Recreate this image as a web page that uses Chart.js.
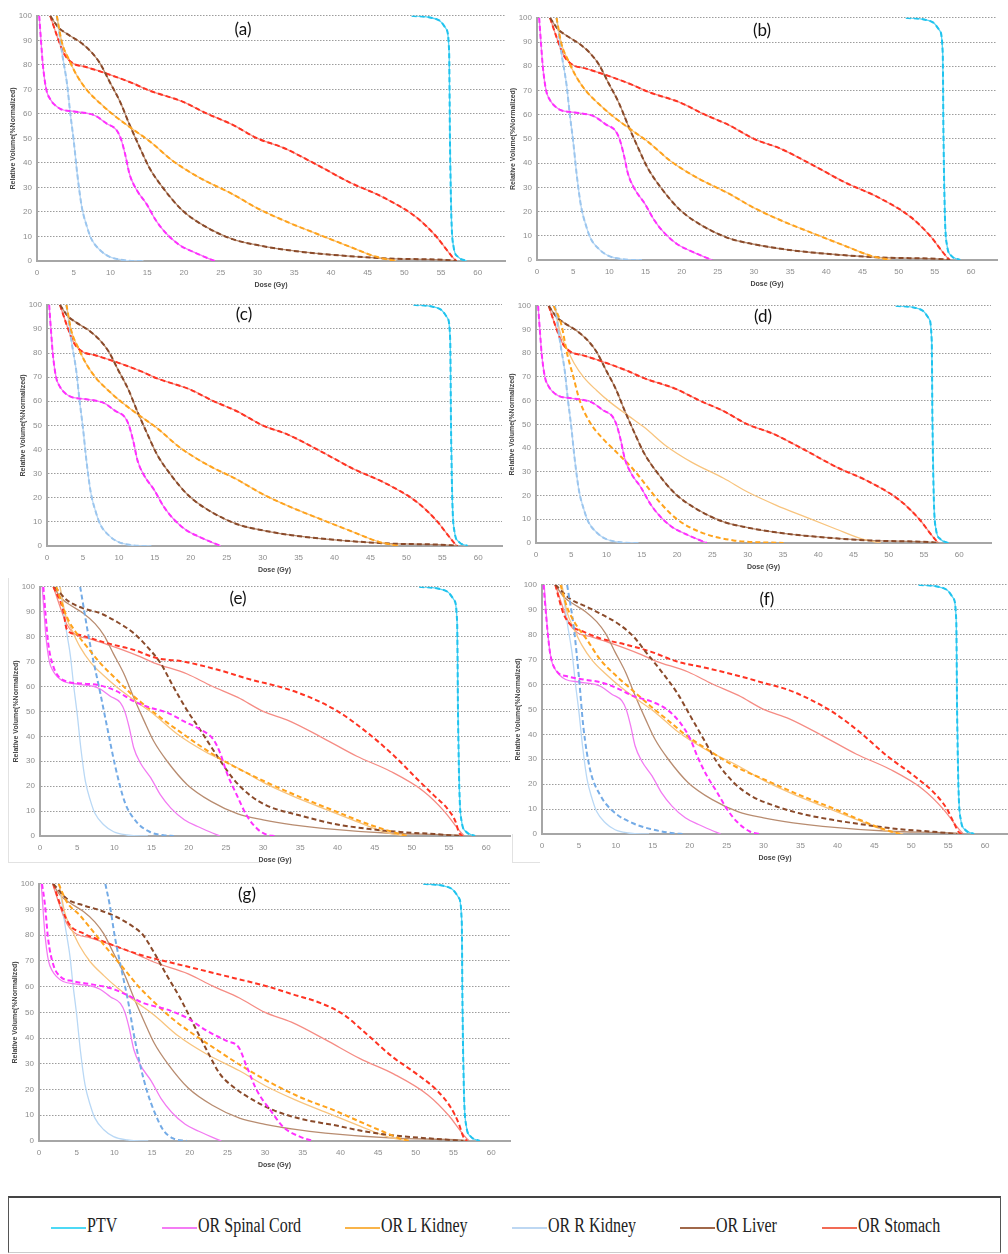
<!DOCTYPE html>
<html>
<head>
<meta charset="utf-8">
<script src="https://cdn.jsdelivr.net/npm/chart.js@4.4.1/dist/chart.umd.min.js"></script>
<style>
body { margin: 0; background: #fff; width: 1008px; height: 1254px; position: relative; overflow: hidden; }
canvas { position: absolute; }
.tag { position: absolute; font-family: Lato, "Liberation Sans", sans-serif; font-size: 17px; color: #111; transform: translate(-50%, -50%); }
.frame { position: absolute; background: #e2e2e2; }
#legend { position: absolute; left: 8px; top: 1196px; width: 993px; height: 57px; box-sizing: border-box;
  border: 1px solid #555; border-top: 2px solid #444; border-bottom-color: #ccc; }
.lline { position: absolute; top: 29px; width: 35px; height: 2px; }
.ltext { position: absolute; top: 16px; font-family: "Liberation Serif", "DejaVu Serif", serif; font-size: 20px;
  color: #222; transform: scaleX(0.8); transform-origin: left center; white-space: nowrap; }
</style>
</head>
<body>
<div id="legend"></div>
<script>
// dose (Gy), relative volume (%) pairs
// reference plan (solid lines)
const refPTV = [[51.0,100],[53.5,99.3],[54.8,98],[55.7,94.6],[56.1,85],[56.2,51.5],[56.4,17.9],[56.7,5.8],[57.3,1.7],[58.5,0]];
const refSpinal = [[0.3,100],[0.54,90],[0.8,80],[1.26,70],[1.8,66],[2.3,64],[3.2,62],[5.0,61],[7.2,60],[8.1,59],[9.5,56],[10.8,53.5],[11.4,50],[12.0,43.5],[12.6,35.4],[13.5,29.3],[14.9,23.3],[16.2,16.5],[17.6,11.2],[19.4,6.5],[21.2,3.8],[22.8,1.7],[24.2,0]];
const refLKidney = [[2.7,100],[3.4,89],[4.3,82.5],[5.4,75.8],[6.8,69.7],[8.6,64.3],[10.4,59.6],[13.1,53.6],[15.3,48.9],[18.5,40.8],[22.1,34],[26.6,27.3],[30,21.5],[34,16],[38,11.2],[42.6,5.8],[46.2,1.7],[48.9,0]];
const refRKidney = [[2.7,100],[3.4,85],[4.1,72],[4.5,61],[5.0,49],[5.5,35],[6.1,22],[6.8,14],[7.4,9],[8.6,4.4],[9.9,1.7],[11.7,0.4],[13.5,0],[14.5,0]];
const refLiver = [[1.8,100],[2.9,95.3],[4.1,92.6],[5.9,89.2],[7.4,85.2],[8.6,80.5],[9.9,73],[11.3,65],[12.6,55.6],[14.0,46.2],[15.3,38],[17.1,30],[19.8,20.6],[23,13.9],[26.6,8.9],[30,6.5],[34,4.5],[38,3.1],[47.1,1.1],[56.2,0.3],[57.1,0]];
const refStomach = [[1.8,100],[2.7,92],[3.6,85],[4.7,81],[6.8,79],[9.5,76.4],[13.1,72.4],[15.3,69.5],[19.8,65],[23,60.3],[26.6,55.6],[30,50],[33.5,46.2],[38,39.4],[42.6,32],[47.1,26],[51.6,17.9],[54.4,9.8],[55.8,4.4],[56.7,1.1],[57.1,0]];

// compared plans (dashed lines) where they differ from the reference
const dLKidney = [[2.5,100],[3.6,92],[4.4,80],[5.3,70],[6.2,60],[7.7,50.6],[9.6,43.6],[11.5,38],[13.8,31],[15.7,24],[17.6,17],[20,10],[23.3,4.6],[28,1.1],[35.1,0]];

const eSpinal = [[0.45,100],[0.7,90.7],[1.1,77.4],[1.8,68],[2.5,64],[3.6,62],[5.8,61.2],[8.1,60.4],[10.3,58.1],[12.6,54.1],[14.8,51.5],[17.1,49.5],[19.3,46.1],[21.5,42.8],[23.3,38.8],[24.2,33.5],[25.1,25.5],[26.5,16.2],[27.8,8.2],[29.2,2.9],[30.5,0.5],[31.6,0]];
const eLKidney = [[2.2,100],[3.6,88],[4.9,81.4],[6.3,76],[8.1,69.4],[10.3,62.8],[12.6,56.1],[14.8,50.8],[17.1,45.5],[19.3,40.8],[21.5,36.2],[25.1,29.5],[30.5,21.5],[35,15.6],[39.5,10.2],[44,4.9],[46.2,2.7],[48.5,0.7],[49.4,0]];
const eRKidney = [[5.4,100],[6.7,77.4],[8.1,57.4],[9.0,44.1],[10.1,28.2],[11.4,13.6],[13.0,5.6],[14.8,1.6],[16.6,0.3],[18,0]];
const eLiver = [[2.0,100],[3.6,94.7],[5.8,91.4],[8.1,89.4],[10.3,86],[12.6,81.4],[14.4,76],[16.2,69.4],[17.9,60.1],[19.7,50.8],[21.5,42.8],[23.8,32.2],[26.0,22.9],[28.3,16.2],[30.5,12.2],[35,8.2],[39.5,4.9],[44,2.9],[48.5,1.6],[53,0.8],[56.6,0]];
const eStomach = [[1.8,100],[3.1,90.7],[3.6,83],[4.9,81],[9.0,77.4],[12.6,74.7],[15.7,71.4],[19.3,70],[23.8,66.8],[28.3,62.8],[32.8,59.4],[36.4,55.5],[40,50.1],[44,41.5],[47.6,32.2],[50.7,22.9],[53,16.2],[54.8,10.9],[55.9,5.6],[56.3,1.6],[56.8,0]];

const fSpinal = [[0.2,100],[0.7,83],[1.1,72.5],[2.0,65.3],[3.4,63.3],[5.6,62],[7.9,60.9],[10.1,58.6],[12.4,55.3],[14.7,53.3],[16.9,50],[18.7,44.7],[20.1,38],[21.0,31.4],[22.3,23.5],[23.7,16.8],[25.0,10.2],[26.4,4.9],[28.2,0.9],[29.5,0]];
const fLKidney = [[2.5,100],[3.4,91],[4.5,84.5],[6.1,77.9],[7.9,69.9],[10.1,63.3],[12.4,57.3],[14.7,51.3],[16.9,46],[19.6,39.4],[22.3,34.1],[25.9,27.5],[30.4,21.5],[35,15.5],[39.5,10.2],[43.1,5.6],[46.2,2],[48.5,0]];
const fRKidney = [[3.4,100],[4.3,83],[5.0,63],[5.6,43],[6.5,26],[7.9,15.5],[9.7,8.9],[12.4,4.2],[14.7,2],[17.8,0.3],[19.2,0]];
const fLiver = [[1.8,100],[3.8,94.4],[6.1,91.1],[8.3,87.8],[10.6,83.8],[12.4,79.2],[14.2,72.5],[16.0,65.9],[18.3,56.6],[20.1,47.3],[21.9,38],[23.7,28.8],[25.9,20.8],[28.2,15.5],[31.3,11.5],[35,8.2],[39.5,5.6],[44,3.6],[48.5,1.9],[53,0.9],[56.2,0]];
const fStomach = [[1.8,100],[2.9,88.5],[4.1,83.3],[5.6,81.2],[7.9,78.5],[11.5,75.9],[14.7,73.2],[18.3,69.2],[22.3,66.6],[26.8,63.3],[30.4,60.3],[33.2,58],[36.3,54],[39.5,48.7],[43.1,40.7],[46.7,31.4],[50.3,23.5],[53,16.8],[54.8,10.2],[55.7,4.9],[56.4,0.9],[56.8,0]];

const gSpinal = [[0.4,100],[0.8,91.6],[1.2,78.8],[1.9,68.5],[2.8,64],[4.6,62.1],[7.2,60.8],[9.4,59.5],[11.6,56.9],[13.8,53.7],[16.9,51.2],[19.6,47.9],[22.3,42.8],[24.9,38.9],[26.5,36.4],[27.6,28.7],[28.9,19.7],[30.7,12],[32.4,5.5],[34.6,1.7],[36.4,0]];
const gLKidney = [[2.6,100],[3.7,92.9],[5.4,87.8],[7.2,81.4],[9.0,74.9],[11.2,67.2],[13.4,59.5],[15.6,53.1],[17.8,47.3],[20.5,41.5],[23.1,36.4],[25.8,31.2],[30.2,23.5],[34.6,17.1],[39.1,12],[42.6,7.5],[45.7,3.6],[47.9,1],[49.2,0]];
const gRKidney = [[8.8,100],[9.4,91.6],[10.1,78.8],[11.0,65.9],[11.9,53.1],[12.5,42.8],[13.4,29.9],[14.3,19.7],[15.4,10.7],[16.5,4.2],[17.8,1],[19.6,0]];
const gLiver = [[1.9,100],[3.7,94.2],[5.9,91.6],[8.1,89.7],[10.3,87.1],[12.5,83.3],[13.8,80.1],[15.2,73.6],[16.9,64.7],[18.7,55.7],[20.5,45.4],[22.3,35.1],[24.0,26.1],[25.8,21],[28.5,15.8],[31.1,12],[34.6,8.7],[39.1,6.2],[43.5,3.6],[47.9,1.9],[52.3,0.9],[56.3,0]];
const gStomach = [[1.9,100],[3.0,90.4],[4.1,83.9],[5.9,80.7],[8.1,78.1],[10.3,75.6],[13.4,72.4],[16.9,69.8],[21.4,66.6],[25.8,63.4],[30.2,60.2],[33.8,56.9],[37.3,53.7],[40.4,49.2],[43.5,41.5],[47.0,32.5],[50.1,26.1],[52.8,19.7],[54.6,13.2],[55.7,6.8],[56.3,1.7],[56.8,0]];

const structures = ['PTV', 'OR Spinal Cord', 'OR L Kidney', 'OR R Kidney', 'OR Liver', 'OR Stomach'];
const yTicks = [0, 10, 20, 30, 40, 50, 60, 70, 80, 90, 100];
const xTicks = [0, 5, 10, 15, 20, 25, 30, 35, 40, 45, 50, 55, 60];

const reference = [refPTV, refSpinal, refLKidney, refRKidney, refLiver, refStomach];
const solidColors = ['#55d3f4', '#f27af2', '#f8c47e', '#b9d8f5', '#b88c70', '#f58c84'];
const dashColors = ['#1fc3ee', '#ff30ff', '#ffa31c', '#9cc6ee', '#8a4a2a', '#ff3322'];
const legendColors = ['#4dd9f5', '#f47cf4', '#f9b44a', '#bdd7f2', '#a0684a', '#f26b55'];

// plot area [left, right, top, bottom] in page pixels, x max, dashed curves
const panels = [
  { tag: '(a)', box: [37, 505, 14, 261], xmax: 63.7, pos: [243, 28], dashed: reference },
  { tag: '(b)', box: [537, 997, 16, 260], xmax: 63.6, pos: [762, 29], dashed: reference },
  { tag: '(c)', box: [47, 502, 303, 546], xmax: 63.3, pos: [244, 313], dashed: reference },
  { tag: '(d)', box: [536, 991, 304, 543], xmax: 64.5, pos: [763, 315],
    dashed: [refPTV, refSpinal, dLKidney, refRKidney, refLiver, refStomach] },
  { tag: '(e)', box: [40, 510, 585, 836], xmax: 63.2, pos: [238, 597],
    dashed: [refPTV, eSpinal, eLKidney, eRKidney, eLiver, eStomach], rkColor: '#74abe6' },
  { tag: '(f)', box: [542, 1008, 583, 834], xmax: 63.1, pos: [767, 598],
    dashed: [refPTV, fSpinal, fLKidney, fRKidney, fLiver, fStomach], rkColor: '#74abe6' },
  { tag: '(g)', box: [39, 510, 882, 1141], xmax: 62.5, pos: [247, 893],
    dashed: [refPTV, gSpinal, gLKidney, gRKidney, gLiver, gStomach], rkColor: '#74abe6' }
];

const AXW = 30, AXH = 28, PADT = 8, PADR = 2;
const toXY = arr => arr.map(p => ({ x: p[0], y: p[1] }));

function makePanel(p) {
  const [L, R, T, B] = p.box;
  const w = R - L + AXW + PADR, h = B - T + PADT + AXH;
  const cv = document.createElement('canvas');
  cv.width = w; cv.height = h;
  cv.style.left = (L - AXW) + 'px';
  cv.style.top = (T - PADT) + 'px';
  cv.style.width = w + 'px';
  cv.style.height = h + 'px';
  document.body.appendChild(cv);

  const datasets = [];
  // dashed first so they are drawn on top
  structures.forEach((name, i) => {
    let col = dashColors[i];
    if (i === 3 && p.rkColor) col = p.rkColor;
    datasets.push({
      label: name + ' (plan)', data: toXY(p.dashed[i]),
      borderColor: col, borderWidth: 2, borderDash: [5, 3]
    });
  });
  structures.forEach((name, i) => {
    datasets.push({
      label: name, data: toXY(reference[i]),
      borderColor: solidColors[i], borderWidth: 1.3
    });
  });

  new Chart(cv, {
    type: 'line',
    data: { datasets: datasets },
    options: {
      responsive: false,
      animation: false,
      layout: { padding: { top: PADT, right: PADR, left: 0, bottom: 0 } },
      elements: { point: { radius: 0 }, line: { cubicInterpolationMode: 'monotone', fill: false } },
      plugins: { legend: { display: false }, tooltip: { enabled: false } },
      scales: {
        x: {
          type: 'linear', min: 0, max: p.xmax,
          afterFit: s => { s.height = AXH; },
          afterBuildTicks: s => { s.ticks = xTicks.map(v => ({ value: v })); },
          grid: { display: false, drawTicks: false },
          border: { color: '#a6a6a6', width: 2 },
          ticks: { padding: 7, maxRotation: 0, autoSkip: false, color: '#8c8c8c',
                   font: { family: 'Liberation Sans', size: 8 } },
          title: { display: true, text: 'Dose (Gy)', color: '#444', padding: { top: 1, bottom: 0 },
                   font: { family: 'Liberation Sans', size: 7, weight: 'bold' } }
        },
        y: {
          min: 0, max: 100,
          afterFit: s => { s.width = AXW; },
          afterBuildTicks: s => { s.ticks = yTicks.map(v => ({ value: v })); },
          grid: { color: '#9c9c9c', lineWidth: 1, drawTicks: false },
          border: { color: '#a6a6a6', width: 2, dash: [1.5, 1.5] },
          ticks: { padding: 5, color: '#8c8c8c', font: { family: 'Liberation Sans', size: 8 } },
          title: { display: true, text: 'Relative Volume(%Normalized)', color: '#444', padding: { top: 2, bottom: 0 },
                   font: { family: 'Liberation Sans', size: 7, weight: 'bold' } }
        }
      }
    }
  });

  const tag = document.createElement('div');
  tag.className = 'tag';
  tag.textContent = p.tag;
  tag.style.left = p.pos[0] + 'px';
  tag.style.top = p.pos[1] + 'px';
  document.body.appendChild(tag);
}

panels.forEach(makePanel);

// faint frame edges of the pasted panels (e) and (f)
[[8, 578, 1, 284], [8, 862, 254, 1], [512, 834, 1, 28], [512, 862, 28, 1]].forEach(f => {
  const d = document.createElement('div');
  d.className = 'frame';
  d.style.left = f[0] + 'px'; d.style.top = f[1] + 'px';
  d.style.width = f[2] + 'px'; d.style.height = f[3] + 'px';
  document.body.appendChild(d);
});

// legend (line start x inside the box)
const legendX = [42, 153, 336, 503, 671, 813];
const legend = document.getElementById('legend');
structures.forEach((name, i) => {
  const ln = document.createElement('div');
  ln.className = 'lline';
  ln.style.left = legendX[i] + 'px';
  ln.style.background = legendColors[i];
  legend.appendChild(ln);
  const tx = document.createElement('div');
  tx.className = 'ltext';
  tx.style.left = (legendX[i] + 36) + 'px';
  tx.textContent = name;
  legend.appendChild(tx);
});
</script>
</body>
</html>
